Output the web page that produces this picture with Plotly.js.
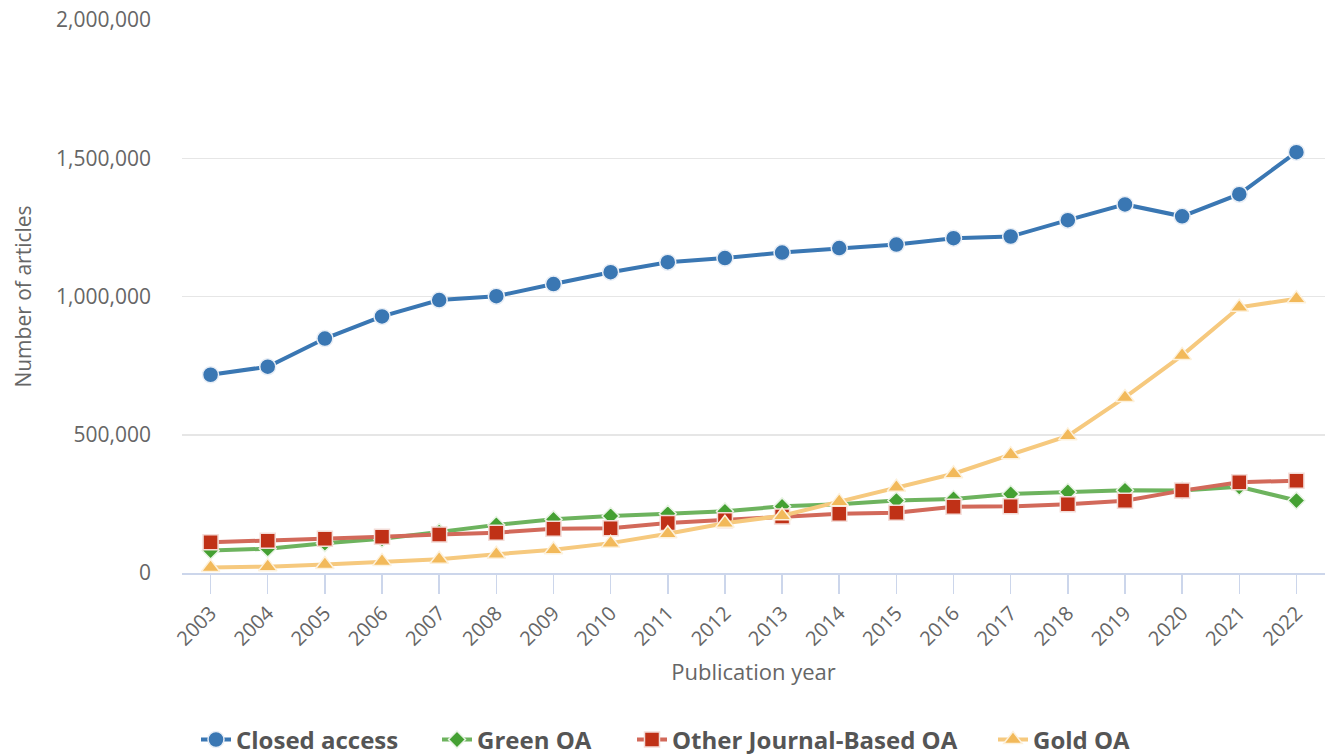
<!DOCTYPE html>
<html><head><meta charset="utf-8">
<script src="https://cdn.plot.ly/plotly-3.0.1.min.js"></script>
<style>html,body{margin:0;padding:0;background:#fff}#chart{width:1328px;height:755px}</style>
</head><body><div id="chart"></div>
<script>
const years = ["2003","2004","2005","2006","2007","2008","2009","2010","2011","2012","2013","2014","2015","2016","2017","2018","2019","2020","2021","2022"];
const closedAccess = [717000,746000,848000,928000,987000,1001000,1045000,1088000,1124000,1139000,1159000,1175000,1188000,1211000,1217000,1276000,1333000,1290000,1370000,1522000];
const greenOA = [81000,88000,108000,124000,148000,174000,194000,206000,214000,223000,241000,249000,262000,268000,286000,293000,299000,298000,312000,262000];
const otherJournalOA = [111000,117000,124000,131000,139000,146000,160000,162000,181000,191000,204000,214000,218000,240000,241000,249000,261000,298000,328000,334000];
const goldOA = [20000,23000,31000,42000,50000,68000,84000,108000,142000,180000,207000,258000,310000,359000,428000,496000,635000,787000,961000,992000];
const seriesNames = ["Closed access","Green OA","Other Journal-Based OA","Gold OA"];

const traces = [
  {x: years, y: closedAccess, name: seriesNames[0], mode: "lines+markers", legend: "legend",
   line: {color: "#3a77b3", width: 4},
   marker: {symbol: "circle", size: 16, color: "#3a77b3", line: {color: "#e8eef6", width: 1.5}}},
  {x: years, y: greenOA, name: seriesNames[1], mode: "lines+markers", legend: "legend2",
   line: {color: "#6db35e", width: 4},
   marker: {symbol: "diamond", size: 13, color: "#44a032", line: {color: "#e8f3e4", width: 1.5}}},
  {x: years, y: otherJournalOA, name: seriesNames[2], mode: "lines+markers", legend: "legend3",
   line: {color: "#d2695a", width: 4},
   marker: {symbol: "square", size: 15, color: "#c03117", line: {color: "#f3dcd7", width: 1.5}}},
  {x: years, y: goldOA, name: seriesNames[3], mode: "lines+markers", legend: "legend4",
   line: {color: "#f6c97e", width: 4},
   marker: {symbol: "triangle-up", size: 16, color: "#f2b95a", line: {color: "#fdf1dc", width: 1.5}}}
];

function leg(x) {
  return {orientation: "h", xref: "container", yref: "container", x: x, xanchor: "left", y: 0.02, yanchor: "middle",
    font: {family: "Open Sans", size: 24, color: "#555", weight: "bold"}, itemwidth: 30, bgcolor: "rgba(0,0,0,0)"};
}

const layout = {
  width: 1328, height: 755,
  margin: {l: 182, r: 3, t: 20, b: 182},
  paper_bgcolor: "#fff", plot_bgcolor: "#fff",
  font: {family: "Open Sans, sans-serif", color: "#666"},
  showlegend: true,
  legend: leg(196/1328), legend2: leg(437/1328), legend3: leg(632/1328), legend4: leg(993/1328),
  xaxis: {type: "category", range: [-0.5, 19.5], tickangle: -45, ticks: "outside", ticklen: 19, tickcolor: "#ccd6eb",
    tickwidth: 1.5, showline: true, linecolor: "#ccd6eb", linewidth: 1.5, showgrid: false, zeroline: false,
    tickfont: {size: 20, color: "#666"}, automargin: false,
    title: {text: "Publication year", font: {size: 22, color: "#666"}, standoff: 14}},
  yaxis: {range: [0, 2000000], dtick: 500000, tickformat: ",d", showgrid: true, gridcolor: "#e6e6e6", gridwidth: 1.5,
    zeroline: false, showline: false, ticks: "", tickfont: {size: 21, color: "#666"}, automargin: false,
    ticklabelstandoff: 30,
    title: {text: "Number of articles", font: {size: 21, color: "#666"}, standoff: 18}}
};
Plotly.newPlot("chart", traces, layout, {displayModeBar: false, staticPlot: true});
</script></body></html>
